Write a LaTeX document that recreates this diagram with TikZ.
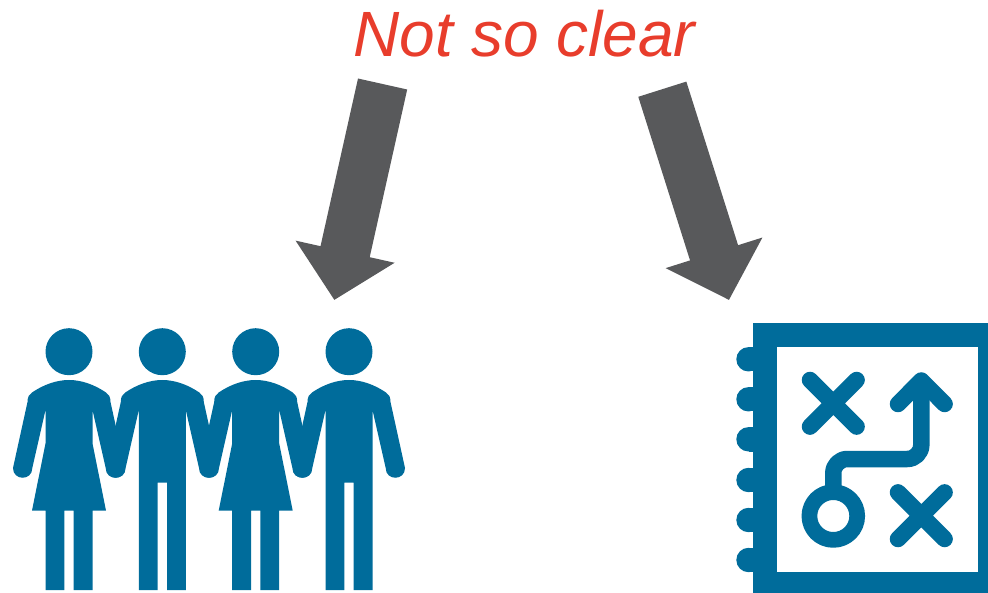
\documentclass[tikz,border=0pt]{standalone}
\usepackage{fontspec}
\setmainfont{Liberation Sans}
\usetikzlibrary{arrows.meta,positioning}
\definecolor{iconblue}{HTML}{006C9B}
\definecolor{arrowgrey}{HTML}{58595B}
\definecolor{titlered}{HTML}{E83D2C}
\newcommand{\upperleft}{(-41.5,402) .. controls (-41.5,397) and (-40,394.5) .. (-37,392.5) .. controls (-26,385) and (-13,380) .. (0,380)
  .. controls (13,380) and (26,385) .. (37,392.5) .. controls (40,394.5) and (41.5,397) .. (41.5,402)
  -- (56,468) .. controls (56,481) and (36.7,481) .. (36.7,468) -- (23.5,410)}
\newcommand{\upperright}{-- (-23.5,410) -- (-36.7,468) .. controls (-36.7,481) and (-56,481) .. (-56,468) -- cycle}
\begin{document}
\begin{tikzpicture}[
    x=1pt, y=-1pt,
    title/.style={font=\fontsize{64}{64}\selectfont\itshape, text=titlered, inner sep=0pt},
    flow/.style={-{Triangle[length=49.5pt, width=98.5pt]}, line width=50.4pt, draw=arrowgrey},
    icon/.style={fill=iconblue, draw=none},
    iconline/.style={draw=iconblue, line width=16.5pt, line cap=round, line join=round},
    man/.pic={
      \fill[iconblue] (0,351.7) circle (23.5pt);
      \fill[iconblue] \upperleft -- (23.5,590) -- (4.7,590) -- (4.7,482.7) -- (-4.7,482.7) -- (-4.7,590) -- (-23.5,590) \upperright;
    },
    woman/.pic={
      \fill[iconblue] (0,351.7) circle (23.5pt);
      \fill[iconblue] \upperleft -- (23.5,443.3) -- (37,510.7) -- (23.5,510.7) -- (23.5,590) -- (4.7,590) -- (4.7,510.7) -- (-4.7,510.7) -- (-4.7,590) -- (-23.5,590) -- (-23.5,510.7) -- (-37,510.7) -- (-23.5,443.3) \upperright;
    }
]
\useasboundingbox (0,0) rectangle (988,593);
\node[title, anchor=base] (title) at (524.5,57) {Not so clear};
\coordinate (peopletail) at (382.6,84);
\coordinate (peopletip) at (334.3,300);
\coordinate (plantail) at (662.3,89.2);
\coordinate (plantip) at (729,300);
\draw[flow] (peopletail) -- (peopletip);
\draw[flow] (plantail) -- (plantip);
\pic at (69,0) {woman};
\pic at (162.3,0) {man};
\pic at (255.7,0) {woman};
\pic at (349,0) {man};
\foreach \y in {359.3,399.3,439.3,480,520,560} {
  \fill[iconblue] (748.5,\y) circle (12.2pt);
  \fill[iconblue] (748.5,\y-12.2) rectangle (754,\y+12.2);
}
\fill[icon] (752.7,323.3) rectangle (988,593);
\fill[white] (777.3,347.3) rectangle (978.3,571.7);
\draw[iconline] (810,380) -- (856.6,426.6) (856.6,380) -- (810,426.6);
\draw[iconline] (898,492.4) -- (944.6,539) (944.6,492.4) -- (898,539);
\draw[iconline, line width=15.7pt] (833.3,516) circle (23.9pt);
\draw[iconline, line cap=butt, rounded corners=14pt] (833.3,492) -- (833.3,459) -- (921.3,459) -- (921.3,379.3);
\draw[iconline] (898,404) -- (921.3,380.5) -- (944.6,404);
\end{tikzpicture}
\end{document}
